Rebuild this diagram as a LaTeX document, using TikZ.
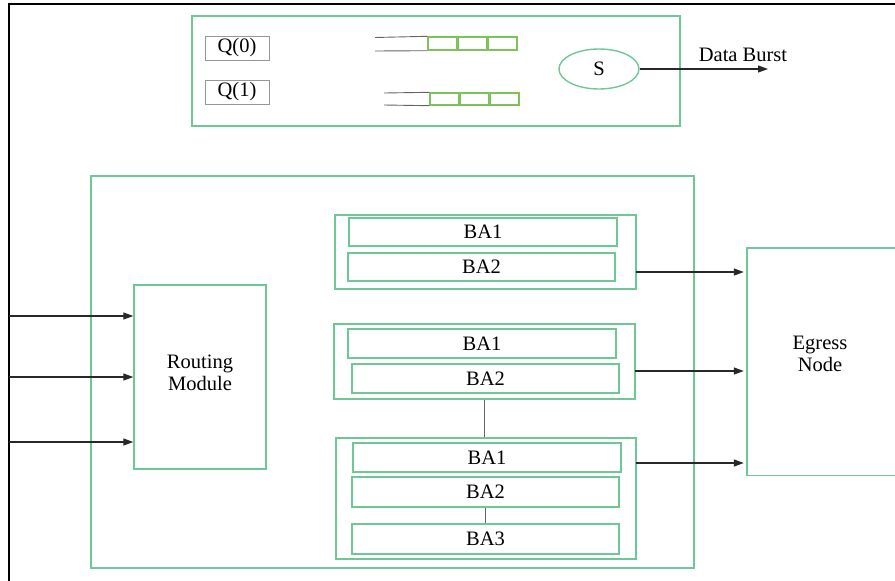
\documentclass[tikz,border=0pt]{standalone}
\usepackage{fontspec}
\setmainfont{Liberation Serif}
\usetikzlibrary{arrows.meta,shapes.geometric}
\definecolor{grn}{RGB}{110,200,150}
\definecolor{qgrn}{RGB}{125,195,90}
\definecolor{qgray}{RGB}{150,150,150}
\definecolor{lgray}{RGB}{100,100,100}
\definecolor{arrc}{RGB}{40,40,40}
\begin{document}
\begin{tikzpicture}[x=1pt,y=-1pt,
  font=\fontsize{20.5}{22}\selectfont,
  gbox/.style={draw=grn,line width=1.4pt,inner sep=0pt,align=center},
  babox/.style={gbox,minimum width=267pt,minimum height=29pt},
  qbox/.style={draw=qgray,line width=1pt,inner sep=0pt,minimum width=64pt,minimum height=24pt},
  cell/.style={draw=qgrn,line width=1.4pt,inner sep=0pt,minimum width=28.7pt},
  qline/.style={draw=lgray,line width=0.9pt},
  arr/.style={draw=arrc,line width=1.3pt,-{Triangle[length=10pt,width=7pt]}},
  conn/.style={draw=lgray,line width=1.3pt},
  gline/.style={draw=grn,line width=1.4pt}]
\useasboundingbox (0,0) rectangle (895,581);
\clip (0,0) rectangle (895,581);
% outer black frame
\draw[line width=2pt,black] (9,600) -- (9,4) -- (900,4);
% top box
\node[gbox,minimum width=488pt,minimum height=110pt] (top) at (436,71) {};
\node[qbox] (q0) at (237,48) {Q(0)};
\node[qbox] (q1) at (237,92) {Q(1)};
% queue 0
\node[cell,minimum height=13pt] (c01) at (442.5,43.5) {};
\node[cell,minimum height=13pt,anchor=west] (c02) at (c01.east) {};
\node[cell,minimum height=13pt,anchor=west] (c03) at (c02.east) {};
\coordinate (l0a) at (375,37.5);
\coordinate (l0b) at (375,51);
\draw[qline] (l0a) -- (c01.north west);
\draw[qline] (l0b) -- (c01.south west);
% queue 1
\node[cell,minimum height=12pt] (c11) at (444.5,99) {};
\node[cell,minimum height=12pt,anchor=west] (c12) at (c11.east) {};
\node[cell,minimum height=12pt,anchor=west] (c13) at (c12.east) {};
\coordinate (l1a) at (384,93);
\coordinate (l1b) at (384,105);
\draw[qline] (l1a) -- (c11.north west);
\draw[qline] (l1b) -- (c11.south west);
% scheduler
\node[draw=grn,line width=1.4pt,ellipse,minimum width=80pt,minimum height=40pt,inner sep=0pt] (s) at (599,69) {S};
\coordinate (db) at (768,69);
\draw[arr,line width=1.1pt] (s.east) -- (db);
\node (dbl) at (743,55) {Data Burst};
% big box
\node[gbox,minimum width=603pt,minimum height=392pt] (big) at (392.5,372) {};
\node[gbox,minimum width=132pt,minimum height=184pt] (rm) at (200,377) {};
\node[align=center] (rmt) at (200,373) {Routing\\Module};
\coordinate (in1) at (9,316);
\coordinate (in2) at (9,377);
\coordinate (in3) at (9,442);
\draw[arr] (in1) -- (in1 -| rm.west);
\draw[arr] (in2) -- (in2 -| rm.west);
\draw[arr] (in3) -- (in3 -| rm.west);
% group 1
\node[gbox,minimum width=301pt,minimum height=74pt] (g1) at (485.5,252) {};
\node[babox,minimum width=268pt,minimum height=28pt] (g1b1) at (483,232) {BA1};
\node[babox,minimum height=28pt] (g1b2) at (481.5,267) {BA2};
% group 2
\node[gbox,minimum width=301pt,minimum height=75pt] (g2) at (484.5,361.5) {};
\node[babox,minimum width=268pt] (g2b1) at (482,343.5) {BA1};
\node[babox] (g2b2) at (485.5,378.5) {BA2};
% group 3
\node[gbox,minimum width=300pt,minimum height=121pt] (g3) at (486,498.5) {};
\node[babox,minimum width=268pt] (g3b1) at (487,457.5) {BA1};
\node[babox,minimum height=30pt] (g3b2) at (485.5,492) {BA2};
\node[babox,minimum height=30pt] (g3b3) at (485.5,539) {BA3};
\draw[conn] (g2.south) -- (g2.south |- g3.north);
\draw[conn] (g3b2.south) -- (g3b3.north);
% egress
\node[minimum width=146pt,minimum height=227pt,inner sep=0pt] (eg) at (820,361.5) {};
\node[align=center] (egt) at (820,354) {Egress\\Node};
\draw[gline] ([xshift=170pt]eg.north west) -- (eg.north west) -- (eg.south west) -- ([xshift=170pt]eg.south west);
\coordinate (o1) at (636,272);
\coordinate (o2) at (635,371);
\coordinate (o3) at (636,463);
\draw[arr,shorten >=3pt] (o1) -- (o1 -| eg.west);
\draw[arr,shorten >=3pt] (o2) -- (o2 -| eg.west);
\draw[arr,shorten >=3pt] (o3) -- (o3 -| eg.west);
\end{tikzpicture}
\end{document}
